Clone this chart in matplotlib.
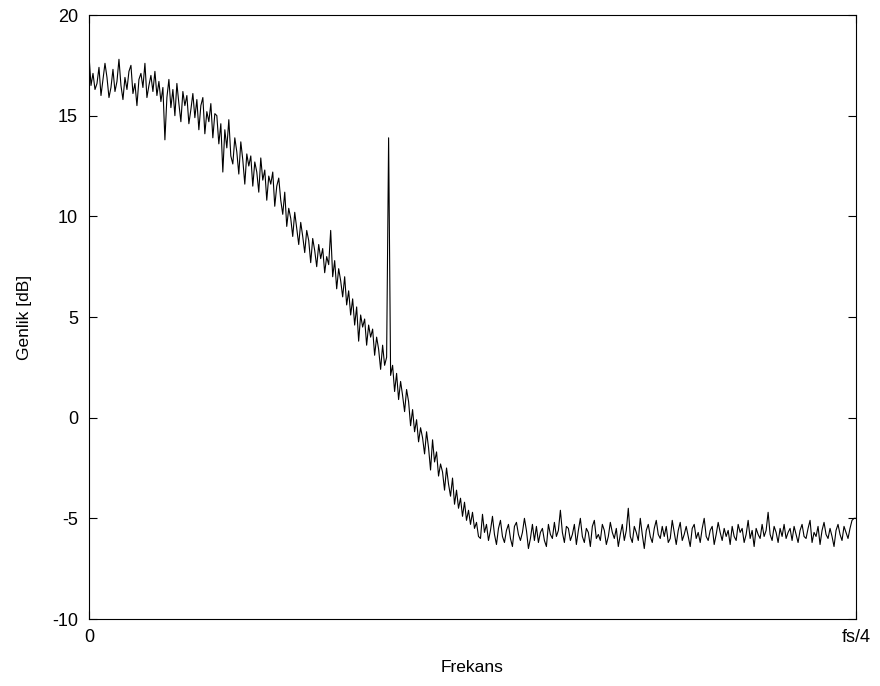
import numpy as np
import matplotlib
matplotlib.use("Agg")
import matplotlib.pyplot as plt

plt.rcParams['font.family'] = ['Liberation Sans', 'DejaVu Sans']
plt.rcParams['axes.unicode_minus'] = False

# Amplitude readings (dB), left to right, evenly spaced from 0 to fs/4
amp_01 = [18.0, 16.5, 17.1, 16.3, 16.6, 17.4, 16.0, 16.8, 17.6, 16.9, 15.9, 16.4, 17.3, 16.2, 16.7, 17.8,
          16.5, 15.8, 16.9, 16.3, 17.2, 17.5, 16.1, 16.6, 15.5, 16.8, 17.1, 16.4, 17.6, 15.9, 16.5, 17.0]
amp_02 = [16.2, 17.2, 16.0, 16.7, 15.7, 16.4, 13.8, 15.9, 16.8, 15.4, 16.3, 15.0, 16.6, 15.6, 14.7, 16.2,
          15.5, 16.0, 14.6, 15.3, 16.1, 14.9, 15.8, 14.3, 15.5, 15.9, 14.1, 15.2, 14.7, 15.6, 13.9, 15.1]
amp_03 = [15.0, 13.6, 14.6, 12.2, 14.3, 13.4, 14.8, 13.0, 12.6, 13.9, 13.2, 12.1, 13.7, 12.8, 11.6, 13.1,
          12.5, 13.0, 11.5, 12.7, 12.2, 11.2, 12.9, 11.8, 12.3, 10.8, 12.0, 11.6, 12.2, 10.5, 11.5, 11.9]
amp_04 = [10.8, 10.1, 11.2, 9.5, 10.4, 9.9, 9.0, 10.2, 9.4, 8.6, 9.7, 9.0, 8.2, 9.3, 8.8, 7.7,
          8.9, 8.3, 7.5, 8.6, 7.9, 8.4, 7.2, 8.0, 7.6, 9.3, 7.0, 7.8, 6.4, 7.4, 6.8, 6.0]
amp_05 = [7.0, 5.6, 6.3, 5.1, 5.9, 4.6, 5.5, 3.8, 5.1, 4.5, 4.9, 3.6, 4.6, 4.0, 4.4, 3.1,
          4.0, 3.4, 2.4, 3.6, 2.6, 3.0, 13.9, 2.1, 2.6, 1.3, 2.2, 0.9, 1.8, 1.1, 0.3, 1.4]
amp_06 = [0.8, -0.4, 0.4, -0.7, -0.1, -1.2, -0.5, -1.0, -1.8, -0.7, -1.5, -2.6, -1.1, -2.2, -1.7, -2.9,
          -2.3, -2.7, -3.6, -2.5, -3.3, -3.9, -3.0, -4.3, -3.6, -4.5, -4.0, -4.9, -4.2, -5.1, -4.6, -5.3]
amp_07 = [-4.7, -5.5, -5.2, -5.9, -6.0, -4.8, -5.7, -5.3, -6.1, -5.6, -4.9, -5.8, -6.3, -5.5, -5.1, -5.9,
          -6.2, -5.6, -5.3, -6.0, -6.4, -5.4, -5.2, -5.8, -6.1, -5.7, -5.0, -5.6, -6.5, -6.0, -5.3, -6.1]
amp_08 = [-5.4, -6.2, -5.7, -5.5, -6.1, -6.4, -5.3, -5.8, -6.0, -5.2, -5.9, -5.6, -4.6, -5.7, -6.2, -5.4,
          -5.5, -6.1, -5.8, -5.3, -6.3, -5.6, -5.0, -5.9, -6.2, -5.5, -5.7, -6.4, -5.4, -5.1, -6.0, -5.8]
amp_09 = [-6.1, -5.3, -5.6, -6.3, -5.9, -5.2, -5.7, -6.0, -5.5, -6.4, -5.8, -5.3, -6.1, -5.6, -4.5, -5.9,
          -6.2, -5.4, -5.7, -6.1, -5.0, -5.8, -6.5, -5.6, -5.3, -5.9, -6.2, -5.5, -5.1, -5.8, -6.0, -5.4]
amp_10 = [-5.9, -5.4, -6.2, -6.0, -5.1, -5.7, -6.3, -5.6, -5.2, -6.1, -5.8, -5.4, -5.9, -6.4, -5.5, -5.3,
          -6.0, -5.7, -6.2, -5.5, -5.0, -5.9, -6.1, -5.6, -5.4, -6.3, -5.8, -5.2, -5.7, -6.1, -5.5, -5.9]
amp_11 = [-5.6, -6.3, -5.4, -5.9, -6.1, -5.3, -5.7, -5.5, -6.2, -5.8, -5.1, -6.0, -5.6, -6.4, -5.5, -5.8,
          -6.0, -5.3, -5.9, -5.6, -4.7, -5.8, -6.1, -5.4, -5.7, -6.2, -5.5, -5.9, -5.3, -6.0, -5.7, -5.5]
amp_12 = [-6.1, -5.4, -5.8, -6.2, -5.6, -5.3, -5.9, -6.0, -5.5, -5.1, -6.2, -5.7, -5.9, -5.4, -6.3, -5.6,
          -5.2, -5.8, -6.0, -5.5, -5.9, -6.4, -5.6, -5.3, -5.8, -6.1, -5.4, -5.7, -6.0, -5.5, -5.1, -5.0, -5.0]

x_tick_pos = [0, 1]
x_tick_labels = ['0', 'fs/4']
y_ticks = [-10, -5, 0, 5, 10, 15, 20]

amp = np.concatenate([amp_01, amp_02, amp_03, amp_04, amp_05, amp_06,
                      amp_07, amp_08, amp_09, amp_10, amp_11, amp_12])
freq = np.linspace(0, 1, len(amp))

fig = plt.figure(figsize=(8.8, 6.86), dpi=100)
ax = fig.add_axes([89/880, 1 - 619/686, (856 - 89)/880, (619 - 15)/686])
ax.plot(freq, amp, color='black', linewidth=0.8)

ax.set_xlim(0, 1)
ax.set_ylim(-10, 20)
ax.set_xticks(x_tick_pos)
ax.set_xticklabels(x_tick_labels)
ax.set_yticks(y_ticks)
ax.tick_params(direction='in', length=6, width=0.8, labelsize=13,
               right=True, top=True, colors='black')
ax.tick_params(axis='x', pad=7)
ax.tick_params(axis='y', pad=8)
for s in ax.spines.values():
    s.set_linewidth(0.8)
ax.set_xlabel('Frekans', fontsize=12.5, labelpad=10)
ax.set_ylabel('Genlik [dB]', fontsize=12.5, labelpad=14)

fig.savefig('out.png', dpi=100)
